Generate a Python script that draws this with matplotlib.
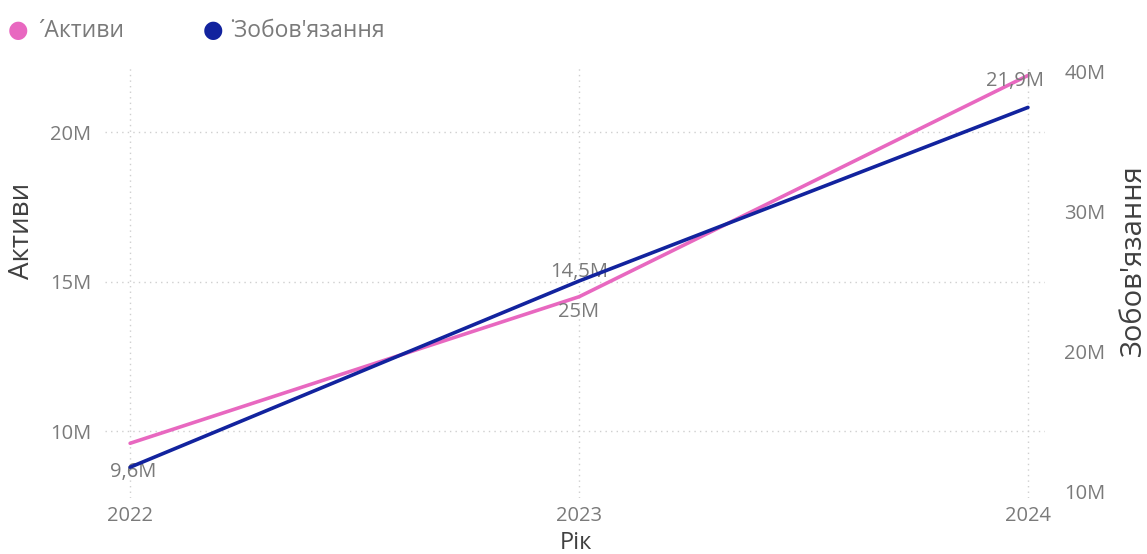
import matplotlib
matplotlib.use("Agg")
import matplotlib.pyplot as plt

years = [2022, 2023, 2024]
assets = [9.6, 14.5, 21.9]          # Активи, millions
liabilities = [11.7, 25.0, 37.4]    # Зобов'язання, millions
asset_labels = ["9,6M", "14,5M", "21,9M"]
liab_labels = ["", "25M", ""]
left_ticks = [10, 15, 20]
right_ticks = [10, 20, 30, 40]

pink = "#E868C0"
blue = "#12239E"
tick_col = "#7a7a7a"
title_col = "#404040"

plt.rcParams['font.family'] = ['Open Sans', 'DejaVu Sans']

W, H = 1147, 554
fig = plt.figure(figsize=(W / 100, H / 100), dpi=100)
L, R, T, B = 105, 1045, 65, 498
ax = fig.add_axes([L / W, 1 - B / H, (R - L) / W, (B - T) / H])
ax2 = ax.twinx()

ax.set_xlim(2021.944, 2024.038)
ax.set_ylim(7.77, 22.25)
ax2.set_ylim(9.5, 40.43)

ax.plot(years, assets, color=pink, lw=2.6, solid_capstyle='round', zorder=3)
ax2.plot(years, liabilities, color=blue, lw=2.6, solid_capstyle='round', zorder=3)

for a in (ax, ax2):
    for s in a.spines.values():
        s.set_visible(False)
    a.tick_params(length=0, colors=tick_col, labelsize=14.5)

ax.set_xticks(years)
ax.set_xticklabels([str(y) for y in years])
ax.tick_params(axis='x', pad=6)
ax.set_yticks(left_ticks)
ax.set_yticklabels([f"{v}M" for v in left_ticks])
ax.tick_params(axis='y', pad=10)
ax2.set_yticks(right_ticks)
ax2.set_yticklabels([f"{v}M" for v in right_ticks])
ax2.tick_params(axis='y', pad=14)

ax.grid(True, color="#cfcfcf", linestyle=(0, (1, 3)), lw=1.0)
ax.set_axisbelow(True)

lbl = dict(textcoords='offset points', ha='center', va='center', color=tick_col, fontsize=14.5)
ax.annotate(asset_labels[0], (years[0], assets[0]), xytext=(2, -21), **lbl)
ax.annotate(asset_labels[1], (years[1], assets[1]), xytext=(0, 18), **lbl)
ax.annotate(asset_labels[2], (years[2], assets[2]), xytext=(-9, -4), **lbl)
ax2.annotate(liab_labels[1], (years[1], liabilities[1]), xytext=(0, -22), **lbl)

# axis titles
fig.text(22 / W, 1 - 231 / H, "Активи", rotation=90, ha='center', va='center',
         color=title_col, fontsize=20)
fig.text(1133 / W, 1 - 260 / H, "Зобов'язання", rotation=90, ha='center', va='center',
         color=title_col, fontsize=21)
fig.text(576 / W, 1 - 543 / H, "Рік", ha='center', va='center', color=title_col, fontsize=17)

# legend
fig.text(18 / W, 1 - 31 / H, "●", color=pink, fontsize=17, ha='center', va='center')
fig.text(38 / W, 1 - 31 / H, "´Активи", color=tick_col, fontsize=16.5, ha='left', va='center')
fig.text(213 / W, 1 - 31 / H, "●", color=blue, fontsize=17, ha='center', va='center')
fig.text(230 / W, 1 - 31 / H, "˙Зобов'язання", color=tick_col, fontsize=16.5, ha='left', va='center')

fig.savefig("out.png", dpi=100, facecolor='white')
